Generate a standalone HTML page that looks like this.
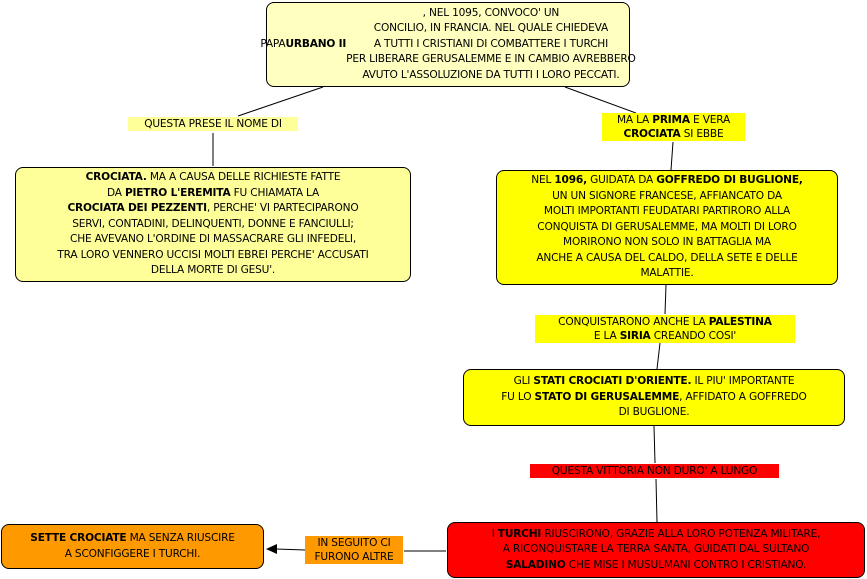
<!DOCTYPE html>
<html><head><meta charset="utf-8"><style>
body{margin:0;width:867px;height:579px;background:#fff;position:relative;overflow:hidden;font-family:"DejaVu Sans","Liberation Sans",sans-serif;font-size:10.6px;color:#000}
.b{position:absolute;border:1px solid #000;border-radius:8px;box-sizing:border-box;display:flex;align-items:center;justify-content:center;text-align:center;line-height:15.5px;white-space:nowrap;letter-spacing:-0.2px}
.l{position:absolute;text-align:center;line-height:14px;white-space:nowrap;letter-spacing:-0.2px}
svg{position:absolute;left:0;top:0}
</style></head><body>
<svg width="867" height="579"><g stroke="#000" stroke-width="1">
<line x1="323" y1="87" x2="238" y2="116"/><line x1="213" y1="133" x2="213" y2="166"/>
<line x1="565" y1="87" x2="636" y2="113"/><line x1="673" y1="142" x2="671" y2="170"/>
<line x1="666" y1="285" x2="665" y2="314"/><line x1="660" y1="343" x2="657" y2="369"/>
<line x1="654" y1="426" x2="655" y2="463"/><line x1="656" y1="479" x2="657" y2="522"/>
<line x1="446" y1="551" x2="404" y2="551"/><line x1="305" y1="550" x2="276" y2="549"/>
</g><polygon points="266,549 277,544 277,554" fill="#000"/></svg>
<div class="b" style="left:266px;top:2px;width:364px;height:85px;background:#ffffc0">PAPA <b>URBANO II</b>, NEL 1095, CONVOCO' UN<br>CONCILIO, IN FRANCIA. NEL QUALE CHIEDEVA<br>A TUTTI I CRISTIANI DI COMBATTERE I TURCHI<br>PER LIBERARE GERUSALEMME E IN CAMBIO AVREBBERO<br>AVUTO L'ASSOLUZIONE DA TUTTI I LORO PECCATI.</div>
<div class="b" style="left:15px;top:167px;width:396px;height:115px;background:#ffff99"><div><b>CROCIATA.</b> MA A CAUSA DELLE RICHIESTE FATTE<br>DA <b>PIETRO L'EREMITA</b> FU CHIAMATA LA<br><b>CROCIATA DEI PEZZENTI</b>, PERCHE' VI PARTECIPARONO<br>SERVI, CONTADINI, DELINQUENTI, DONNE E FANCIULLI;<br>CHE AVEVANO L'ORDINE DI MASSACRARE GLI INFEDELI,<br>TRA LORO VENNERO UCCISI MOLTI EBREI PERCHE' ACCUSATI<br>DELLA MORTE DI GESU'.</div></div>
<div class="b" style="left:496px;top:170px;width:342px;height:115px;background:#ffff00"><div>NEL <b>1096,</b> GUIDATA DA <b>GOFFREDO DI BUGLIONE,</b><br>UN UN SIGNORE FRANCESE, AFFIANCATO DA<br>MOLTI IMPORTANTI FEUDATARI PARTIRORO ALLA<br>CONQUISTA DI GERUSALEMME, MA MOLTI DI LORO<br>MORIRONO NON SOLO IN BATTAGLIA MA<br>ANCHE A CAUSA DEL CALDO, DELLA SETE E DELLE<br>MALATTIE.</div></div>
<div class="b" style="left:463px;top:369px;width:382px;height:57px;background:#ffff00"><div>GLI <b>STATI CROCIATI D'ORIENTE.</b> IL PIU' IMPORTANTE<br>FU LO <b>STATO DI GERUSALEMME</b>, AFFIDATO A GOFFREDO<br>DI BUGLIONE.</div></div>
<div class="b" style="left:447px;top:522px;width:418px;height:56px;background:#ff0000"><div>I <b>TURCHI</b> RIUSCIRONO, GRAZIE ALLA LORO POTENZA MILITARE,<br>A RICONQUISTARE LA TERRA SANTA, GUIDATI DAL SULTANO<br><b>SALADINO</b> CHE MISE I MUSULMANI CONTRO I CRISTIANO.</div></div>
<div class="b" style="left:1px;top:524px;width:263px;height:45px;background:#ff9900"><div><b>SETTE CROCIATE</b> MA SENZA RIUSCIRE<br>A SCONFIGGERE I TURCHI.</div></div>
<div class="l" style="left:128px;top:117px;width:170px;background:#ffff99">QUESTA PRESE IL NOME DI</div>
<div class="l" style="left:602px;top:113px;width:143px;background:#ffff00">MA LA <b>PRIMA</b> E VERA<br><b>CROCIATA</b> SI EBBE</div>
<div class="l" style="left:535px;top:315px;width:260px;background:#ffff00">CONQUISTARONO ANCHE LA <b>PALESTINA</b><br>E LA <b>SIRIA</b> CREANDO COSI'</div>
<div class="l" style="left:530px;top:464px;width:249px;background:#ff0000">QUESTA VITTORIA NON DURO' A LUNGO</div>
<div class="l" style="left:305px;top:536px;width:98px;background:#ff9900">IN SEGUITO CI<br>FURONO ALTRE</div>
</body></html>
